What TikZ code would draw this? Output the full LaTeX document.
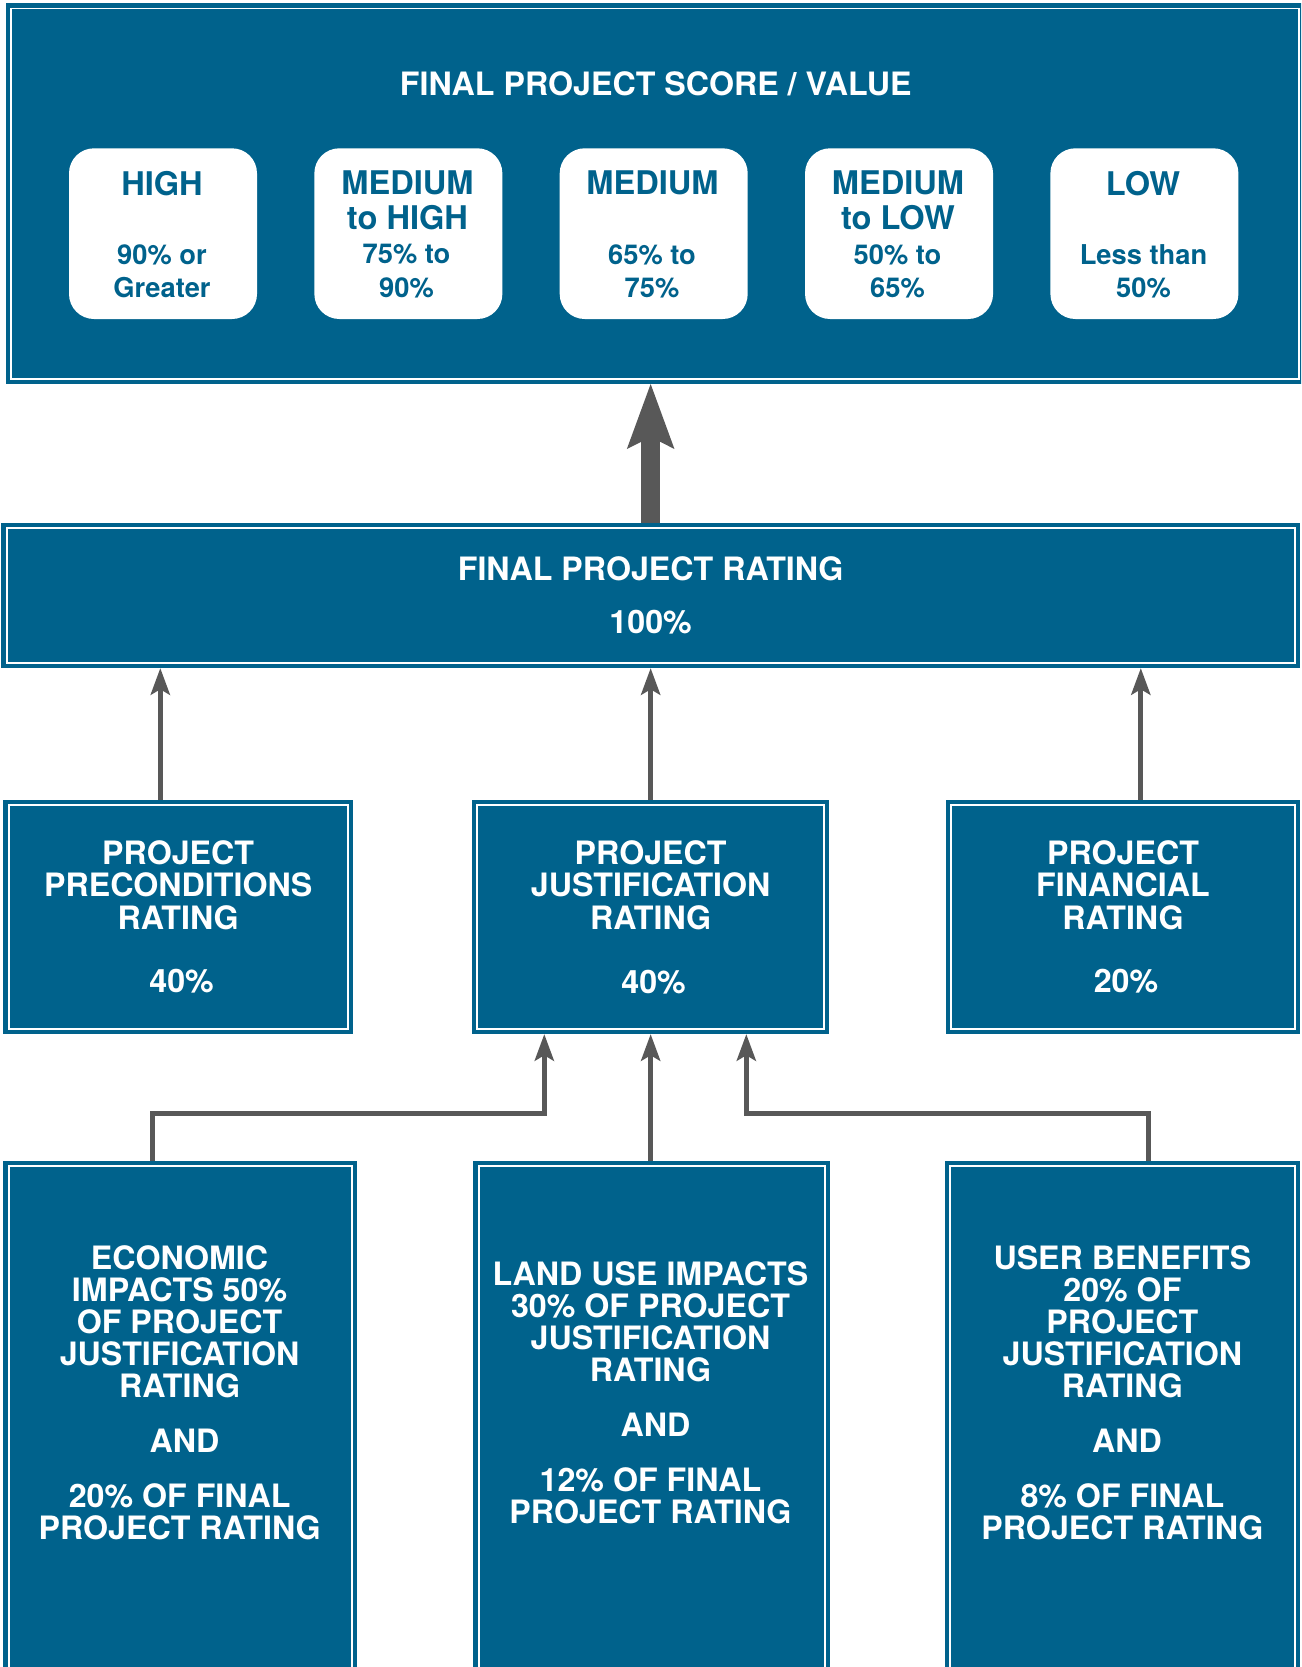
\documentclass[tikz,border=0pt]{standalone}
\usepackage{fontspec}
\setmainfont{TeX Gyre Heros}
\usetikzlibrary{arrows.meta}

\definecolor{fhblue}{RGB}{0,98,140}
\definecolor{fhgray}{RGB}{88,88,88}

\newcommand\labelfont{\fontsize{32.2}{32.4}\selectfont\bfseries}
\newcommand\bodyfont{\fontsize{32.2}{32}\selectfont\bfseries}
\newcommand\rangefont{\fontsize{27.3}{33.4}\selectfont\bfseries}
\newcommand\tilefont{\fontsize{32.6}{34.4}\selectfont\bfseries}
% small lead-in used to set the percentage and AND lines slightly right of centre
\newcommand\nudge[1]{\hspace*{#1pt}}

\tikzset{
  panel/.style={fill=fhblue, draw=fhblue, line width=4.4pt, double=white,
    double distance=1.8pt, inner sep=0pt, outer sep=5.3pt, text=white,
    align=center, font=\labelfont},
  tile/.style={fill=white, rounded corners=25pt, minimum width=188pt,
    minimum height=170.7pt, inner sep=0pt},
  tiletitle/.style={anchor=north, inner sep=0pt, align=center, text=fhblue, font=\tilefont},
  tilerange/.style={anchor=north, inner sep=0pt, align=center, text=fhblue, font=\rangefont},
  caption/.style={anchor=north, inner sep=0pt, align=center, text=white, font=\bodyfont},
  link/.style={draw=fhgray, line width=5pt, line join=miter,
    -{Stealth[length=27pt, width=20pt, inset=6pt, line width=0pt]}},
  bigarrow/.style={draw=fhgray, line width=18.4pt,
    -{Stealth[length=65pt, width=47.6pt, inset=12pt, line width=0pt]}},
}

\begin{document}
\begin{tikzpicture}[x=1pt, y=-1pt]
\useasboundingbox (0,0) rectangle (1301,1667);
\clip (0,0) rectangle (1301,1667);

% score band with the five grade tiles
\node[panel, minimum width=1287.4pt, minimum height=370.1pt] (score) at (655,193.65) {};
\node[caption] (scoretitle) at (655.8,71.6) {FINAL PROJECT SCORE / VALUE};

\node[tile] (t1) at (163,233.65) {};
\node[tiletitle] (t1a) at (162,170.7) {HIGH};
\node[tilerange] (t1b) at (162,244.3) {90\% or\\Greater};

\node[tile] (t2) at (408.35,233.65) {};
\node[tiletitle] (t2a) at (407.5,170.7) {MEDIUM\\to HIGH};
\node[tilerange] (t2b) at (406.5,244.3) {75\% to\\90\%};

\node[tile] (t3) at (653.7,233.65) {};
\node[tiletitle] (t3a) at (652.5,170.7) {MEDIUM};
\node[tilerange] (t3b) at (652,244.3) {65\% to\\75\%};

\node[tile] (t4) at (899.05,233.65) {};
\node[tiletitle] (t4a) at (898,170.7) {MEDIUM\\to LOW};
\node[tilerange] (t4b) at (897.5,244.3) {50\% to\\65\%};

\node[tile] (t5) at (1144.4,233.65) {};
\node[tiletitle] (t5a) at (1143,170.7) {LOW};
\node[tilerange] (t5b) at (1143.5,244.3) {Less than\\50\%};

% overall rating
\node[panel, minimum width=1288.1pt, minimum height=135pt] (rating) at (650.65,595.5)
  {FINAL PROJECT RATING\\[21.2pt]100\%};

% three component ratings
\node[panel, minimum width=339.1pt, minimum height=223.4pt] (pre) at (178.15,917)
  {PROJECT\\PRECONDITIONS\\RATING\\[31.3pt]\nudge{7}40\%};
\node[panel, minimum width=346.7pt, minimum height=223.7pt] (just) at (650.65,917.15)
  {PROJECT\\JUSTIFICATION\\RATING\\[31.3pt]\nudge{6}40\%};
\node[panel, minimum width=343.4pt, minimum height=223.4pt] (fin) at (1123,917)
  {PROJECT\\FINANCIAL\\RATING\\[31.3pt]\nudge{6}20\%};

% justification sub-criteria
\node[panel, minimum width=343.4pt, minimum height=548.4pt] (econ) at (180.3,1440.5) {};
\node[panel, minimum width=346.1pt, minimum height=548.4pt] (land) at (651.65,1440.5) {};
\node[panel, minimum width=344.4pt, minimum height=548.4pt] (user) at (1122.5,1440.5) {};

\node[caption] (econtext) at (179.6,1245.1)
  {ECONOMIC\\IMPACTS 50\%\\OF PROJECT\\JUSTIFICATION\\RATING\\[23pt]\nudge{10}AND\\[23pt]20\% OF FINAL\\PROJECT RATING};
\node[caption] (landtext) at (650.5,1261)
  {LAND USE IMPACTS\\30\% OF PROJECT\\JUSTIFICATION\\RATING\\[23pt]\nudge{10}AND\\[23pt]12\% OF FINAL\\PROJECT RATING};
\node[caption] (usertext) at (1122.4,1245.1)
  {USER BENEFITS\\20\% OF\\PROJECT\\JUSTIFICATION\\RATING\\[23pt]\nudge{9}AND\\[23pt]8\% OF FINAL\\PROJECT RATING};

% connectors
\draw[bigarrow] (rating.north) -- (rating.north |- score.south);

\draw[link] ([xshift=-17.85pt]pre.north) -- ([xshift=-17.85pt]pre.north |- rating.south);
\draw[link] (just.north) -- (rating.south -| just.north);
\draw[link] ([xshift=17.8pt]fin.north) -- ([xshift=17.8pt]fin.north |- rating.south);

\coordinate (elbowL) at (544.3,1113.7);
\coordinate (elbowR) at (746.3,1113.7);
\draw[link] ([xshift=-27.6pt]econ.north) |- (elbowL) -- (elbowL |- just.south);
\draw[link] (just.south |- land.north) -- (just.south);
\draw[link] ([xshift=25.5pt]user.north) |- (elbowR) -- (elbowR |- just.south);
\end{tikzpicture}
\end{document}
